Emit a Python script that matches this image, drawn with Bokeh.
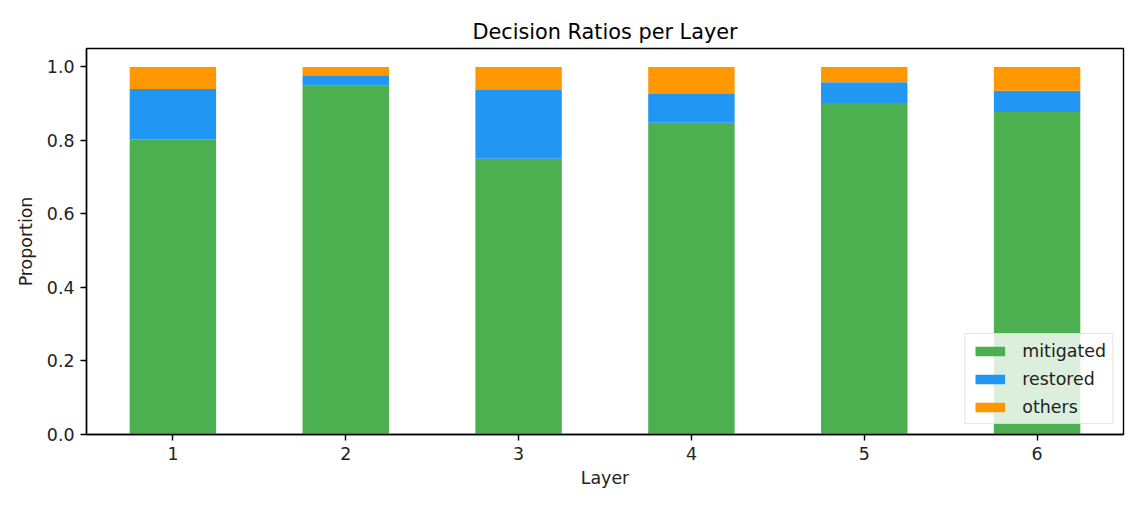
from bokeh.plotting import figure
from bokeh.models import FactorRange, Range1d, FixedTicker, NumeralTickFormatter, ColumnDataSource
from bokeh.embed import file_html
from bokeh.resources import INLINE

layers = ["1", "2", "3", "4", "5", "6"]
mitigated = [0.803, 0.949, 0.750, 0.848, 0.902, 0.877]
restored = [0.137, 0.028, 0.187, 0.078, 0.056, 0.058]
others = [0.060, 0.023, 0.063, 0.074, 0.042, 0.065]
series = ["mitigated", "restored", "others"]
colors = ["#4CAF50", "#2196F3", "#FF9800"]
y_ticks = [0.0, 0.2, 0.4, 0.6, 0.8, 1.0]

src = ColumnDataSource(dict(layer=layers, mitigated=mitigated, restored=restored, others=others))

FONT = "DejaVu Sans"
p = figure(x_range=FactorRange(*layers, range_padding=0), y_range=Range1d(0, 1.05),
           frame_width=1037, frame_height=386,
           min_border_left=86, min_border_right=19, min_border_top=48, min_border_bottom=70,
           output_backend="svg", toolbar_location=None, title="Decision Ratios per Layer")

p.vbar_stack(series, x="layer", width=0.5, color=colors, line_color=None, source=src,
             legend_label=series)

p.title.align = "center"
p.title.text_font = FONT
p.title.text_font_size = "20.8px"
p.title.text_font_style = "normal"
p.title.text_color = "#000000"
p.title.standoff = 10

p.xgrid.visible = False
p.ygrid.visible = False
p.outline_line_color = "#000000"
p.outline_line_width = 1.4
p.outline_line_alpha = 1

for ax in (p.xaxis[0], p.yaxis[0]):
    ax.axis_line_color = "#000000"
    ax.axis_line_width = 1.4
    ax.major_tick_line_color = "#000000"
    ax.major_tick_line_width = 1.4
    ax.major_tick_out = 6
    ax.major_tick_in = 0
    ax.minor_tick_line_color = None
    ax.major_label_text_font = FONT
    ax.major_label_text_font_size = "17.4px"
    ax.major_label_text_color = "#222222"
    ax.axis_label_text_font = FONT
    ax.axis_label_text_font_size = "17.4px"
    ax.axis_label_text_font_style = "normal"
    ax.axis_label_text_color = "#222222"

p.xaxis.axis_label = "Layer"
p.yaxis.axis_label = "Proportion"
p.xaxis.major_label_standoff = 6
p.yaxis.major_label_standoff = 6
p.xaxis.axis_label_standoff = 5
p.yaxis.axis_label_standoff = 8
p.yaxis.ticker = FixedTicker(ticks=y_ticks)
p.yaxis.formatter = NumeralTickFormatter(format="0.0")

lg = p.legend[0]
lg.location = "bottom_right"
lg.margin = 10
lg.padding = 6
lg.spacing = 7
lg.label_height = 21
lg.glyph_width = 37
lg.glyph_height = 12
lg.label_standoff = 14
lg.label_text_font = FONT
lg.label_text_font_size = "17.4px"
lg.label_text_color = "#222222"
lg.border_line_color = "#cccccc"
lg.border_line_width = 1
lg.background_fill_alpha = 0.8

open("out.html", "w").write(file_html(p, INLINE))
